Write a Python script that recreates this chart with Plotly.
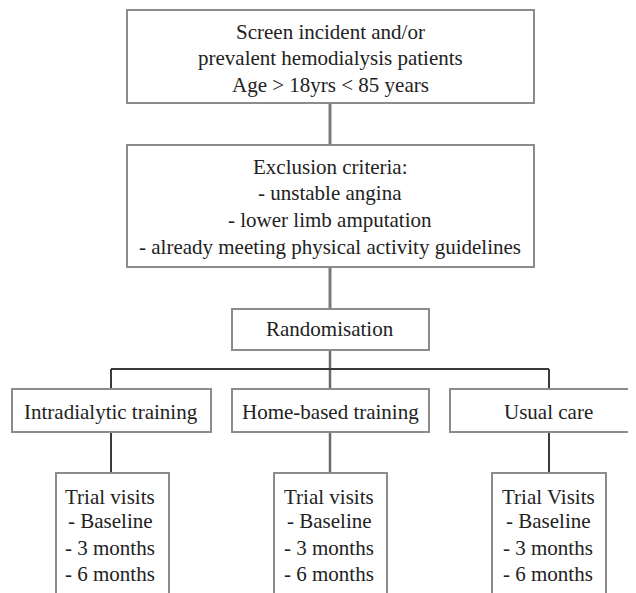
import plotly.graph_objects as go

# ---- content ----
screen_lines = ["Screen incident and/or", "prevalent hemodialysis patients", "Age > 18yrs < 85 years"]
exclusion_lines = ["Exclusion criteria:", "- unstable angina", "- lower limb amputation",
                   "- already meeting physical activity guidelines"]
random_label = "Randomisation"
arm_labels = ["Intradialytic training", "Home-based training", "Usual care"]
visit_titles = ["Trial visits", "Trial visits", "Trial Visits"]
visit_items = ["- Baseline", "- 3 months", "- 6 months"]

# ---- layout geometry (pixels, y downwards) ----
W, H = 636, 593
OFF = 8  # page body margin
BOX_COL = "#8c8c8c"
DARK = "#3a3a3a"
TXT = "#222222"
FONT = "Liberation Serif"
FS = 21

fig = go.Figure()
fig.add_trace(go.Scatter(x=[OFF, W + OFF], y=[OFF, H + OFF], mode="markers", marker=dict(opacity=0),
                         hoverinfo="skip", showlegend=False))

shapes = []
annotations = []

def box(x0, y0, x1, y1):
    shapes.append(dict(type="rect", x0=x0, y0=y0, x1=x1, y1=y1, xref="x", yref="y",
                       line=dict(color=BOX_COL, width=2), fillcolor="white", layer="below"))

def line(x0, y0, x1, y1, color, width):
    shapes.append(dict(type="line", x0=x0, y0=y0, x1=x1, y1=y1, xref="x", yref="y",
                       line=dict(color=color, width=width), layer="below"))

def text(x, y, s):
    annotations.append(dict(x=x, y=y, xref="x", yref="y", text=s, showarrow=False,
                            font=dict(family=FONT, size=FS, color=TXT),
                            xanchor="center", yanchor="middle"))

# connectors first
line(330, 103, 330, 145, "#7a7a7a", 3)
line(330, 267, 330, 309, "#7a7a7a", 3)
line(330, 350, 330, 389, "#6a6a6a", 2.5)
line(111, 369, 549, 369, DARK, 2)
line(111, 369, 111, 389, DARK, 2)
line(549, 369, 549, 389, DARK, 2)
arm_cx = [111, 330, 549]
for cx in arm_cx:
    line(cx, 432, cx, 473, DARK if cx != 330 else "#6a6a6a", 2 if cx != 330 else 2.5)

# boxes
box(127, 10, 534, 103)
box(127, 145, 534, 267)
box(232, 309, 429, 350)
arm_boxes = [(12, 211), (232, 429), (450, 650)]
for (x0, x1) in arm_boxes:
    box(x0, 389, x1, 432)
visit_boxes = [(56, 169), (274, 387), (492, 606)]
for (x0, x1) in visit_boxes:
    box(x0, 473, x1, 620)

# texts
for s, y in zip(screen_lines, [32, 58, 85]):
    text(330, y, s)
for s, y in zip(exclusion_lines, [167, 193, 220, 247]):
    text(330, y, s)
text(330, 329, random_label)
for s, cx in zip(arm_labels, [111, 330, 548]):
    text(cx, 412, s)
for title, cx in zip(visit_titles, [110, 329, 548]):
    text(cx, 497, title)
    for s, y in zip(visit_items, [521, 548, 574]):
        text(cx, y, s)

fig.update_layout(
    width=W, height=H, margin=dict(l=0, r=0, t=0, b=0),
    paper_bgcolor="white", plot_bgcolor="white",
    xaxis=dict(range=[OFF, W + OFF], visible=False, fixedrange=True),
    yaxis=dict(range=[H + OFF, OFF], visible=False, fixedrange=True),
    shapes=shapes, annotations=annotations, showlegend=False,
)
fig.write_html("out.html")
